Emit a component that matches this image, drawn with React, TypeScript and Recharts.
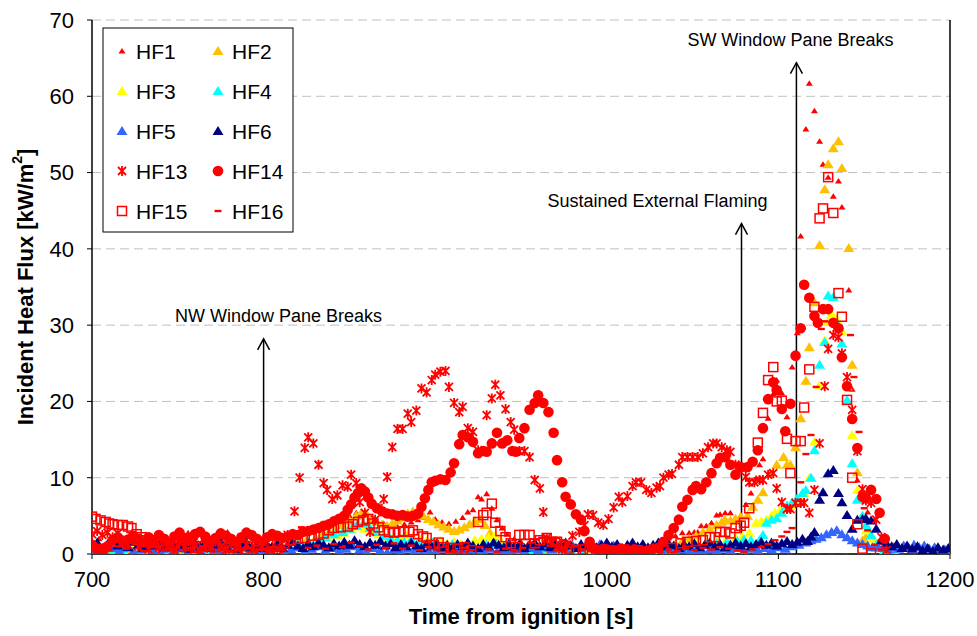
import React from "react";
import { ScatterChart, Scatter, XAxis, YAxis, CartesianGrid, ReferenceLine } from "recharts";

type Pt = [number, number];

// readings: [time from ignition (s), heat flux (kW/m2)]
const hf1: Pt[] = [
  [700,1.5],[704,2.0],[708,1.2],[712,1.8],[716,2.2],[720,1.6],[724,2.0],[728,1.4],[732,2.1],[736,1.7],[740,2.3],[744,1.9],[748,1.5],[752,2.2],[756,2.8],[760,2.1],[764,1.6],[768,2.0],[772,2.4],[776,2.6],[779,2.9],[782,2.2],[786,1.8],[790,2.3],[794,2.0],[798,1.7],
  [802,2.1],[806,2.5],[810,2.2],[814,2.6],[818,2.4],[822,2.8],[826,3.0],[830,3.3],[834,3.6],[838,3.9],[842,4.2],[846,4.6],[850,5.0],[854,5.4],[858,5.2],[862,4.8],[866,4.4],[870,4.0],[874,3.8],[878,3.6],[882,3.9],[886,4.2],[890,4.5],[894,4.8],[897,5.5],
  [900,4.6],[904,4.2],[908,4.0],[912,4.3],[916,4.8],[919,5.5],[922,5.8],[925,7.5],[927,7.2],[930,7.9],[933,6.0],[936,4.5],[939,3.4],[942,2.6],[946,2.0],[950,1.6],[954,1.3],[958,1.0],[962,0.8],[966,1.1],[970,0.7],[975,0.9],[980,0.6],[985,0.8],[990,0.5],[995,0.7],
  [1000,0.6],[1005,0.8],[1010,0.5],[1015,0.7],[1020,0.6],[1025,0.9],[1030,1.2],[1033,1.6],[1036,2.1],[1040,2.4],[1044,2.8],[1048,2.8],[1051,2.9],[1053,2.9],[1055,3.7],[1058,3.7],[1061,4.1],[1064,5.1],[1066,5.2],[1069,5.4],[1072,5.4],[1075,4.8],[1078,5.0],
  [1081,6.5],[1084,8.0],[1087,9.9],[1089,11.7],[1091,12.5],[1094,17.8],[1097,21.0],[1099,22.8],[1102,21.1],[1105,18.0],[1108,24.5],[1111,29.0],[1113,41.7],[1116,55.7],[1118,61.7],[1121,58.1],[1124,54.1],[1126,51.1],[1129,49.4],[1132,46.9],[1135,48.9],[1137,45.5],
  [1141,34.6],[1143,21.6],[1146,9.7],[1149,7.0],[1152,5.5],[1156,4.5],[1160,1.5],[1164,0.5],
];

const hf2: Pt[] = [
  [700,0.5],[705,0.9],[710,0.4],[715,1.1],[720,0.6],[725,0.3],[730,0.8],[735,1.2],[740,0.5],[744,1.6],[748,0.7],[752,0.4],[756,1.0],[760,0.6],[765,1.3],[770,0.5],[775,0.9],[780,0.4],[785,1.4],[788,1.8],[792,0.7],[796,1.0],
  [800,0.6],[805,0.9],[810,1.2],[815,0.8],[820,1.4],[825,1.8],[830,2.0],[834,2.4],[838,2.9],[842,3.3],[846,3.8],[850,4.4],[854,5.0],[857,5.4],[860,5.2],[863,4.6],[866,4.2],[869,3.9],[872,3.7],[875,4.0],[878,4.4],[881,4.8],[884,5.3],[887,5.6],[890,5.4],[893,5.0],[896,4.6],[899,4.3],
  [902,3.9],[905,3.6],[908,3.3],[911,3.0],[914,3.2],[917,3.5],[920,3.9],[923,4.3],[926,4.6],[929,3.8],[932,2.8],[935,2.2],[938,1.6],[942,1.1],[946,0.8],[950,0.5],[955,0.7],[960,0.4],[965,0.6],[970,0.3],[975,0.5],[980,0.2],[985,0.4],[990,0.3],[995,0.5],
  [1000,0.2],[1005,0.4],[1010,0.3],[1015,0.5],[1020,0.3],[1025,0.4],[1030,0.6],[1035,0.9],[1040,1.3],[1044,1.7],[1048,2.0],[1052,2.4],[1056,2.9],[1060,3.3],[1064,3.8],[1067,4.2],[1069,4.5],[1072,4.4],[1075,4.6],[1078,4.9],[1082,5.0],[1085,6.2],[1088,7.1],
  [1091,8.1],[1095,10.5],[1099,11.7],[1103,12.7],[1105,11.7],[1107,11.7],[1110,14.0],[1113,17.8],[1116,22.7],[1118,27.1],[1121,33.0],[1124,40.5],[1127,47.8],[1129,51.1],[1132,53.2],[1135,54.1],[1137,50.6],[1141,40.1],[1143,24.8],[1146,10.7],[1149,1.8],[1151,2.2],[1154,2.2],[1157,0.8],[1162,0.4],
];

const hf3: Pt[] = [
  [700,0.3],[706,0.6],[712,0.2],[718,0.5],[724,0.8],[730,0.4],[736,0.7],[742,0.3],[748,0.9],[754,0.5],[760,0.3],[766,0.7],[772,0.4],[778,0.8],[784,0.5],[790,0.9],[796,0.6],
  [802,0.8],[808,1.0],[814,1.1],[820,1.3],[826,1.5],[832,1.8],[838,2.1],[843,2.4],[847,2.8],[851,3.2],[855,3.6],[859,3.3],[863,2.9],[867,2.6],[871,2.3],[875,2.0],[879,2.2],[883,2.5],[887,2.3],[891,2.0],[895,1.8],[899,1.5],
  [903,1.7],[907,1.4],[911,1.6],[915,1.3],[919,1.5],[923,1.8],[927,2.0],[931,2.2],[935,2.5],[938,1.8],[942,1.2],[946,0.8],[950,0.5],[956,0.3],[962,0.4],[968,0.2],[974,0.3],[980,0.1],[986,0.3],[992,0.2],[998,0.1],
  [1004,0.3],[1010,0.2],[1016,0.4],[1022,0.3],[1028,0.5],[1034,0.6],[1040,0.9],[1046,1.2],[1052,1.4],[1058,1.6],[1064,1.9],[1070,2.1],[1075,2.2],[1079,2.3],[1083,2.8],[1087,4.1],[1090,4.3],[1093,4.5],[1096,5.0],[1098,5.4],
  [1101,5.7],[1104,6.0],[1107,6.3],[1110,6.7],[1113,7.3],[1115,8.0],[1118,10.0],[1121,14.7],[1124,22.1],[1127,28.0],[1129,30.5],[1131,31.5],[1134,30.8],[1137,29.2],[1140,22.0],[1143,15.6],[1146,8.4],[1149,5.0],[1151,3.1],[1154,2.0],[1157,1.4],[1162,0.5],
];

const hf4: Pt[] = [
  [700,0.2],[706,0.5],[712,0.3],[718,0.6],[724,0.2],[730,0.5],[736,0.8],[742,0.4],[748,0.6],[754,0.3],[760,0.7],[766,0.4],[772,0.6],[778,0.3],[784,0.5],[790,0.8],[796,0.4],
  [802,0.6],[808,0.9],[814,1.1],[820,1.3],[826,1.6],[831,1.9],[836,2.2],[841,2.6],[846,2.9],[850,3.3],[854,3.7],[858,4.0],[862,3.4],[866,2.9],[870,2.4],[874,2.0],[878,1.8],[882,1.6],[886,1.9],[890,1.5],[894,1.3],[898,1.6],
  [902,1.2],[906,1.0],[910,1.3],[915,0.9],[920,1.1],[925,0.8],[930,1.2],[935,1.4],[940,1.0],[945,0.7],[950,0.5],[956,0.3],[962,0.5],[968,0.2],[974,0.4],[980,0.2],[986,0.3],[992,0.1],[998,0.3],
  [1004,0.2],[1010,0.4],[1016,0.3],[1022,0.5],[1028,0.4],[1034,0.6],[1040,0.7],[1046,0.9],[1052,1.1],[1058,1.3],[1064,1.4],[1070,1.6],[1076,1.7],[1080,1.9],[1084,1.8],[1089,1.8],[1091,2.5],[1093,4.1],[1096,4.5],[1099,4.7],
  [1102,5.4],[1105,6.4],[1108,6.8],[1111,7.3],[1114,8.0],[1116,8.4],[1119,10.0],[1121,13.6],[1124,24.8],[1127,27.8],[1129,33.9],[1132,33.7],[1135,30.0],[1137,27.6],[1140,20.2],[1143,11.9],[1146,7.1],[1149,5.0],[1151,3.8],[1154,2.5],[1157,1.2],[1162,0.6],[1168,0.3],
];

const hf5: Pt[] = [
  [700,0.2],[704,0.5],[708,0.1],[712,0.8],[716,0.4],[720,0.9],[724,0.3],[728,0.6],[732,1.0],[736,0.5],[740,0.2],[744,0.7],[748,0.4],[752,0.9],[756,0.3],[760,0.6],[764,0.2],[768,0.8],[772,0.5],[776,0.2],[780,0.7],[784,0.4],[788,0.9],[792,0.3],[796,0.6],
  [800,0.2],[804,0.5],[808,0.8],[812,0.3],[816,0.6],[820,0.9],[824,0.4],[828,0.7],[832,1.0],[836,0.5],[840,0.8],[844,0.4],[848,0.7],[852,1.0],[856,0.6],[860,0.3],[864,0.8],[868,0.5],[872,0.2],[876,0.6],[880,0.3],[884,0.7],[888,0.4],[892,0.1],[896,0.5],
  [900,0.3],[904,0.7],[908,0.2],[912,0.5],[916,0.3],[920,0.6],[924,0.2],[928,0.4],[932,0.7],[936,0.3],[940,0.5],[944,0.2],[948,0.6],[952,0.4],[956,0.8],[960,0.5],[964,0.9],[968,0.6],[972,1.0],[976,0.7],[980,1.1],[984,0.8],[988,1.2],[992,0.9],[996,1.3],
  [1000,0.8],[1004,1.1],[1008,0.7],[1012,1.0],[1016,0.6],[1020,0.9],[1024,0.5],[1028,0.8],[1032,0.4],[1036,0.7],[1040,0.3],[1044,0.6],[1048,0.2],[1052,0.5],[1056,0.3],[1060,0.6],[1064,0.4],[1068,0.7],[1072,0.5],[1076,0.8],[1080,0.4],[1084,0.7],[1088,0.5],[1092,0.8],[1096,0.6],
  [1100,0.9],[1104,0.7],[1108,1.0],[1112,1.2],[1116,1.5],[1119,1.8],[1122,2.0],[1125,2.2],[1128,2.6],[1131,2.9],[1134,3.1],[1137,2.6],[1140,2.2],[1143,1.8],[1146,1.5],[1149,1.3],[1152,1.1],[1155,0.9],[1158,1.0],[1161,0.8],[1164,0.6],[1167,0.9],[1170,0.7],[1173,1.1],
  [1176,0.8],[1179,1.2],[1182,0.9],[1185,1.1],[1188,0.7],[1191,0.9],[1194,0.5],[1197,0.6],[1200,0.4],
];

const hf6: Pt[] = [
  [700,1.0],[703,1.5],[706,0.8],[709,1.3],[712,1.7],[715,1.1],[718,1.4],[721,0.9],[724,1.6],[727,1.2],[730,0.8],[733,1.5],[736,1.1],[739,1.7],[742,0.9],[745,1.3],[748,1.0],[751,1.6],[754,1.2],[757,0.7],[760,1.4],[763,1.0],[766,1.5],[769,0.8],[772,1.2],[775,1.6],[778,1.0],[781,1.3],[784,0.7],[787,1.1],[790,1.5],[793,0.9],[796,1.2],[799,0.8],
  [802,1.3],[805,1.0],[808,1.4],[811,0.8],[814,1.2],[817,1.6],[820,1.1],[823,0.8],[826,1.4],[829,1.0],[832,1.5],[835,1.2],[838,0.9],[841,1.4],[844,1.1],[847,1.6],[850,1.2],[853,1.8],[856,1.3],[859,1.0],[862,1.5],[865,1.2],[868,1.7],[871,1.1],[874,1.4],[877,0.9],[880,1.3],[883,1.0],[886,1.5],[889,1.1],[892,0.8],[895,1.3],[898,1.0],
  [901,1.4],[904,0.9],[907,1.2],[910,0.8],[913,1.3],[916,1.0],[919,1.5],[922,1.1],[925,0.8],[928,1.3],[931,1.0],[934,1.5],[937,1.2],[940,0.9],[943,1.4],[946,1.0],[949,1.3],[952,0.8],[955,1.2],[958,1.5],[961,1.0],[964,1.4],[967,0.9],[970,1.3],[973,1.0],[976,1.5],[979,1.1],[982,0.8],[985,1.3],[988,1.0],[991,1.4],[994,0.9],[997,1.2],
  [1000,1.5],[1003,1.0],[1006,1.3],[1009,0.8],[1012,1.2],[1015,1.5],[1018,1.0],[1021,1.3],[1024,0.9],[1027,1.2],[1030,1.5],[1033,1.0],[1036,1.4],[1039,1.1],[1042,0.8],[1045,1.3],[1048,1.0],[1051,1.4],[1054,0.9],[1057,1.2],[1060,1.5],[1063,1.0],[1066,1.3],[1069,0.9],[1072,1.2],[1075,1.5],[1078,1.1],[1081,1.4],[1084,1.0],[1087,1.3],[1090,1.6],[1093,1.2],[1096,1.5],[1099,1.1],
  [1102,1.4],[1105,1.7],[1108,1.3],[1111,1.6],[1114,2.0],[1117,1.7],[1119,2.3],[1121,2.9],[1124,7.1],[1126,8.1],[1129,10.6],[1132,11.0],[1135,8.0],[1137,6.8],[1140,5.1],[1143,3.3],[1146,4.5],[1149,4.6],[1151,4.7],[1154,4.4],[1157,3.3],[1160,1.8],[1163,1.4],[1166,1.0],[1169,1.3],[1172,0.8],[1175,1.1],[1178,0.7],
  [1181,1.0],[1184,0.5],[1187,0.8],[1190,0.4],[1193,0.9],[1196,0.6],[1199,0.8],
];

const hf13: Pt[] = [
  [700,2.6],[703,3.0],[706,2.5],[709,2.8],[712,2.2],[715,2.7],[718,1.8],[721,1.2],[724,2.0],[727,1.0],[730,1.6],[733,0.6],[736,1.4],[739,0.8],[742,1.9],[745,1.1],[748,0.5],[751,1.5],[754,0.9],[757,1.8],[760,1.2],[763,0.4],[766,1.3],[769,0.7],[772,1.6],[775,1.0],[778,0.5],[781,1.4],[784,0.8],[787,0.3],[790,1.2],[793,0.6],[796,0.2],[799,0.9],
  [802,0.3],[805,0.1],[808,0.6],[811,0.8],[814,2.5],[818,5.6],[821,10.0],[824,13.9],[826,15.3],[829,14.5],[832,11.7],[835,9.3],[837,8.4],[840,7.2],[843,7.7],[846,9.0],[849,8.8],[851,10.4],[854,9.3],[856,6.8],[859,5.4],[862,2.9],[865,4.5],[867,6.0],[870,7.2],[872,10.1],[875,14.0],[878,16.4],[881,16.4],[884,18.4],[886,17.3],[889,18.8],[892,21.7],[895,21.2],[898,22.8],
  [900,23.5],[903,23.9],[906,24.0],[908,21.9],[911,19.8],[914,18.6],[916,19.3],[919,16.5],[922,16.0],[925,13.6],[930,18.2],[933,20.4],[935,22.2],[938,20.8],[941,19.0],[944,17.3],[946,16.3],[949,13.5],[952,13.5],[955,12.7],[958,9.7],[961,8.6],[963,5.5],[965,2.1],[968,1.5],[971,0.9],[974,0.6],[977,1.2],[980,2.4],[984,2.9],[987,3.8],[989,5.2],[992,5.1],[995,4.1],[998,3.8],
  [1001,4.6],[1004,6.1],[1007,7.5],[1009,6.8],[1012,7.6],[1015,8.9],[1017,9.4],[1020,9.4],[1023,8.4],[1026,8.0],[1029,8.7],[1031,8.9],[1033,10.0],[1036,10.4],[1038,10.5],[1042,11.7],[1044,12.7],[1047,12.7],[1050,12.7],[1053,12.7],[1056,13.2],[1059,14.0],[1062,14.5],[1064,14.5],[1067,14.0],[1070,13.6],[1072,13.4],[1075,11.7],[1078,11.3],[1081,10.1],[1083,9.4],[1086,9.4],[1089,9.7],[1091,9.7],[1094,10.4],[1097,10.6],[1099,8.6],
  [1102,6.8],[1105,5.9],[1107,5.9],[1110,6.7],[1113,6.7],[1115,6.7],[1118,5.4],[1121,8.4],[1124,14.5],[1127,22.0],[1129,26.9],[1132,28.7],[1135,28.4],[1137,26.3],[1140,23.2],[1143,18.9],[1146,13.5],[1149,8.5],[1151,7.0],[1154,6.7],[1157,4.5],[1160,2.2],[1163,0.5],
];

const hf14: Pt[] = [
  [700,1.2],[703,0.6],[706,0.3],[709,1.0],[712,1.8],[715,2.2],[718,1.6],[721,1.9],[724,2.4],[727,2.0],[730,1.5],[733,2.2],[736,1.8],[739,2.5],[742,2.0],[745,1.4],[748,2.3],[751,2.8],[754,2.1],[757,1.8],[760,2.6],[763,2.9],[766,2.3],[769,1.7],[772,2.1],[775,2.7],[778,2.4],[781,2.0],[784,1.5],[787,2.2],[790,2.8],[793,2.5],[796,2.0],[799,1.6],
  [802,2.2],[805,2.6],[808,2.4],[811,2.1],[814,2.3],[817,2.6],[820,2.5],[823,2.9],[826,3.0],[829,3.2],[832,3.4],[835,3.7],[838,3.9],[841,4.3],[844,4.6],[847,5.0],[849,5.8],[851,6.5],[853,7.4],[855,8.0],[857,8.6],[859,8.2],[861,7.4],[863,6.6],[866,6.0],[869,5.6],[872,5.3],[875,5.2],[878,5.0],[881,5.1],[884,4.9],[887,5.0],[890,5.3],[892,6.2],[894,7.3],[896,8.4],[898,9.4],
  [900,9.6],[903,9.8],[906,9.7],[909,10.7],[911,11.9],[914,14.4],[916,15.6],[919,15.3],[922,14.7],[925,13.2],[928,13.5],[930,13.4],[933,14.5],[936,15.9],[939,14.5],[942,14.9],[945,13.5],[947,13.4],[949,15.2],[952,16.5],[955,18.9],[958,19.8],[960,20.8],[963,19.8],[966,18.6],[969,15.9],[971,12.3],[974,9.4],[976,7.5],[979,6.5],[982,5.2],[985,4.5],[987,3.0],[990,1.6],[992,0.8],[995,0.5],[998,0.7],
  [1000,0.6],[1004,0.4],[1008,0.7],[1012,0.5],[1016,0.6],[1020,0.4],[1024,0.5],[1027,0.7],[1030,0.8],[1033,1.6],[1036,2.5],[1039,3.4],[1042,4.5],[1044,6.2],[1047,7.1],[1050,8.4],[1052,8.9],[1055,8.5],[1058,9.4],[1061,10.6],[1064,11.9],[1066,12.6],[1069,12.7],[1072,11.7],[1075,10.4],[1078,11.4],[1082,11.4],[1085,12.1],[1088,13.6],[1091,16.5],[1094,20.3],[1097,22.5],[1099,21.5],
  [1102,19.0],[1104,16.1],[1107,19.7],[1110,26.0],[1113,29.6],[1115,35.3],[1118,33.6],[1121,31.2],[1123,30.3],[1126,32.1],[1129,32.1],[1132,30.3],[1135,29.6],[1137,25.8],[1140,22.0],[1143,17.7],[1146,13.9],[1149,7.5],[1151,7.3],[1154,8.4],[1157,7.2],[1159,5.4],[1162,2.0],
];

const hf15: Pt[] = [
  [700,4.9],[702,4.6],[705,4.4],[708,4.2],[710,4.0],[712,3.9],[715,3.8],[718,3.8],[721,3.6],[723,3.4],[726,2.6],[729,2.2],[732,1.8],[736,1.5],[740,1.2],[744,1.0],[748,1.3],[752,0.9],[756,1.1],[760,0.8],[764,1.0],[768,1.2],[772,0.9],[776,1.1],[780,0.8],[784,1.0],[788,1.2],[792,0.9],[796,1.1],
  [800,1.3],[804,1.2],[808,1.5],[812,1.4],[816,1.8],[820,2.0],[824,2.1],[828,2.4],[832,2.5],[835,2.7],[838,3.1],[841,3.4],[845,3.5],[849,3.6],[852,3.9],[855,4.2],[858,4.4],[861,4.6],[864,4.0],[867,3.5],[870,3.1],[873,2.9],[876,2.8],[879,2.9],[882,3.0],[885,2.9],[887,3.1],[890,2.6],[893,2.3],[895,2.1],[899,1.2],
  [902,1.5],[905,0.9],[909,0.8],[913,0.7],[917,0.9],[921,0.5],[925,4.2],[928,5.1],[930,5.4],[933,6.6],[935,4.1],[938,3.0],[941,2.2],[944,1.4],[947,0.9],[949,2.5],[952,2.5],[955,2.5],[958,1.4],[961,1.8],[965,2.1],[968,1.6],[971,1.6],[974,1.0],[978,0.7],[982,0.5],[986,0.6],[990,0.4],[994,0.5],[998,0.3],
  [1002,0.5],[1006,0.4],[1010,0.6],[1014,0.3],[1018,0.5],[1022,0.3],[1025,0.3],[1029,0.4],[1033,0.5],[1038,0.8],[1043,1.4],[1047,1.6],[1052,1.7],[1056,1.8],[1060,2.2],[1063,2.2],[1066,2.9],[1069,2.9],[1072,2.7],[1075,3.4],[1078,3.7],[1080,4.1],[1083,6.0],[1088,14.6],[1091,18.5],[1094,22.8],[1097,24.5],[1099,20.0],
  [1102,20.1],[1105,15.1],[1107,10.6],[1110,14.8],[1113,14.8],[1115,19.2],[1118,24.2],[1121,32.4],[1124,44.0],[1126,45.3],[1129,49.4],[1132,44.7],[1135,34.2],[1137,31.1],[1140,20.2],[1143,10.0],[1146,3.9],[1149,0.7],[1154,0.1],
];

const hf16: Pt[] = [
  [700,0.8],[705,1.2],[710,0.5],[715,1.0],[720,0.7],[725,1.3],[730,0.4],[735,0.9],[740,1.1],[745,0.6],[750,1.4],[755,0.8],[760,0.3],[765,1.0],[770,0.6],[775,1.2],[780,0.4],[785,0.9],[790,0.7],[795,1.1],
  [800,0.5],[805,0.9],[810,0.6],[815,1.2],[822,3.5],[826,0.8],[831,1.1],[836,0.7],[841,1.3],[846,0.9],[851,1.5],[856,1.0],[861,0.6],[866,1.2],[871,0.8],[876,1.4],[881,0.7],[886,1.1],[891,0.5],[896,0.9],
  [901,0.6],[906,1.0],[911,0.4],[916,0.8],[921,0.5],[926,0.9],[931,0.6],[936,0.3],[941,0.7],[946,0.5],[951,0.8],[956,1.5],[959,1.9],[962,2.1],[965,2.2],[968,2.0],[971,2.1],[974,1.8],[977,1.6],[981,1.0],[986,0.6],[991,0.4],[996,0.7],
  [1001,0.5],[1006,0.3],[1011,0.6],[1016,0.4],[1021,0.7],[1026,0.5],[1031,0.3],[1036,0.6],[1041,0.4],[1046,0.7],[1051,0.5],[1056,0.8],[1061,0.6],[1066,0.9],[1071,0.7],[1076,0.5],[1080,0.3],[1085,0.6],[1090,0.9],[1094,1.3],[1098,1.8],
  [1102,2.3],[1105,2.9],[1108,3.4],[1113,9.4],[1116,13.1],[1119,15.6],[1122,21.9],[1125,29.5],[1127,30.5],[1142,28.7],[1144,23.2],[1147,16.0],[1150,6.0],[1152,3.1],[1156,1.2],[1160,0.6],
];

const timeTicks = [700, 800, 900, 1000, 1100, 1200];
const fluxTicks = [0, 10, 20, 30, 40, 50, 60, 70];

const eventNames = ["NW Window Pane Breaks", "Sustained External Flaming", "SW Window Pane Breaks"];
const eventTimes = [800, 1078.5, 1110.5];
const eventTops = [28.2, 43.3, 64.4];
const eventLabelShift = [15, -84, -6];

type Kind = "smallTri" | "tri" | "star" | "circle" | "square" | "dash";

const series: { name: string; data: Pt[]; color: string; kind: Kind }[] = [
  { name: "HF1", data: hf1, color: "#FF0000", kind: "smallTri" },
  { name: "HF2", data: hf2, color: "#FFC000", kind: "tri" },
  { name: "HF3", data: hf3, color: "#FFFF00", kind: "tri" },
  { name: "HF4", data: hf4, color: "#00FFFF", kind: "tri" },
  { name: "HF5", data: hf5, color: "#3366FF", kind: "tri" },
  { name: "HF6", data: hf6, color: "#000080", kind: "tri" },
  { name: "HF13", data: hf13, color: "#FF0000", kind: "star" },
  { name: "HF14", data: hf14, color: "#FF0000", kind: "circle" },
  { name: "HF15", data: hf15, color: "#FF0000", kind: "square" },
  { name: "HF16", data: hf16, color: "#FF0000", kind: "dash" },
];

const FONT = "'Liberation Sans', Arial, sans-serif";

function Glyph({ kind, color, cx, cy }: { kind: Kind; color: string; cx: number; cy: number }) {
  if (cx == null || cy == null) return null;
  switch (kind) {
    case "smallTri":
      return <path d={`M${cx},${cy - 3} L${cx + 3.5},${cy + 2.5} L${cx - 3.5},${cy + 2.5} Z`} fill={color} />;
    case "tri":
      return <path d={`M${cx},${cy - 5} L${cx + 5.5},${cy + 4} L${cx - 5.5},${cy + 4} Z`} fill={color} />;
    case "star":
      return (
        <path
          d={`M${cx - 4},${cy - 4} L${cx + 4},${cy + 4} M${cx + 4},${cy - 4} L${cx - 4},${cy + 4} M${cx},${cy - 5} L${cx},${cy + 5}`}
          stroke={color}
          strokeWidth={1.8}
          fill="none"
        />
      );
    case "circle":
      return <circle cx={cx} cy={cy} r={5.3} fill={color} />;
    case "square":
      return <rect x={cx - 4.5} y={cy - 4.5} width={9} height={9} fill="none" stroke={color} strokeWidth={1.5} />;
    case "dash":
      return <rect x={cx - 3.5} y={cy - 1.2} width={7} height={2.4} fill={color} />;
  }
  return null;
}

function EventArrow(props: any) {
  const { x1, y1, x2, y2, index } = props;
  const x = x1;
  const top = Math.min(y1, y2);
  const bottom = Math.max(y1, y2);
  return (
    <g>
      <line x1={x} y1={bottom} x2={x} y2={top} stroke="#000" strokeWidth={1.5} />
      <path d={`M${x - 6},${top + 11} L${x},${top} L${x + 6},${top + 11}`} stroke="#000" strokeWidth={1.5} fill="none" />
      <text
        x={x + eventLabelShift[index]}
        y={top - 17}
        textAnchor="middle"
        fontFamily={FONT}
        fontSize={18}
        fill="#000"
      >
        {eventNames[index]}
      </text>
    </g>
  );
}

function LegendBox() {
  const rows = [
    [series[0], series[1]],
    [series[2], series[3]],
    [series[4], series[5]],
    [series[6], series[7]],
    [series[8], series[9]],
  ];
  return (
    <svg width={192} height={206} style={{ position: "absolute", left: 102, top: 27 }}>
      <rect x={1} y={1} width={190} height={204} fill="#fff" stroke="#000" strokeWidth={1} />
      {rows.map((pair, r) =>
        pair.map((s, c) => (
          <g key={s.name}>
            <Glyph kind={s.kind} color={s.color} cx={20 + c * 96} cy={24 + r * 40} />
            <text x={34 + c * 96} y={24 + r * 40 + 8} fontFamily={FONT} fontSize={21} fill="#000">
              {s.name}
            </text>
          </g>
        ))
      )}
    </svg>
  );
}

export default function App() {
  return (
    <div style={{ position: "absolute", left: 0, top: 0, width: 977, height: 636, background: "#fff" }}>
      <ScatterChart width={977} height={636} margin={{ top: 20, right: 27, bottom: 0, left: 0 }}>
        <CartesianGrid horizontal vertical={false} stroke="#c0c0c0" strokeDasharray="9 5" />
        <XAxis
          type="number"
          dataKey="t"
          domain={[700, 1200]}
          ticks={timeTicks}
          allowDataOverflow
          height={82}
          tickSize={5}
          tickMargin={12}
          tick={{ fontSize: 22, fill: "#000", fontFamily: FONT }}
          tickLine={{ stroke: "#000" }}
          axisLine={{ stroke: "#000", strokeWidth: 1.5 }}
          label={{
            content: ({ viewBox }: any) => (
              <text
                x={viewBox.x + viewBox.width / 2}
                y={viewBox.y + 70}
                textAnchor="middle"
                fontFamily={FONT}
                fontWeight="bold"
                fontSize={22}
                fill="#000"
              >
                Time from ignition [s]
              </text>
            ),
          }}
        />
        <YAxis
          type="number"
          dataKey="v"
          domain={[0, 70]}
          ticks={fluxTicks}
          allowDataOverflow
          width={92}
          tickSize={5}
          tickMargin={13}
          tick={{ fontSize: 22, fill: "#000", fontFamily: FONT }}
          tickLine={{ stroke: "#000" }}
          axisLine={{ stroke: "#000", strokeWidth: 1.5 }}
          label={{
            content: ({ viewBox }: any) => {
              const cx = 25;
              const cy = viewBox.y + viewBox.height / 2;
              return (
                <text
                  x={cx}
                  y={cy}
                  transform={`rotate(-90 ${cx} ${cy})`}
                  textAnchor="middle"
                  dominantBaseline="central"
                  fontFamily={FONT}
                  fontWeight="bold"
                  fontSize={22}
                  fill="#000"
                >
                  Incident Heat Flux [kW/m<tspan dy={-8} fontSize={14}>2</tspan>
                  <tspan dy={8}>]</tspan>
                </text>
              );
            },
          }}
        />
        <ReferenceLine x={1200} stroke="#000" strokeWidth={1.5} />
        {series.map((s) => (
          <Scatter
            key={s.name}
            name={s.name}
            data={s.data.map(([t, v]) => ({ t, v }))}
            isAnimationActive={false}
            shape={(p: any) => <Glyph kind={s.kind} color={s.color} cx={p.cx} cy={p.cy} />}
          />
        ))}
        {eventTimes.map((t, i) => (
          <ReferenceLine
            key={eventNames[i]}
            segment={[
              { x: t, y: 0 },
              { x: t, y: eventTops[i] },
            ]}
            stroke="#000"
            shape={(p: any) => <EventArrow {...p} index={i} />}
          />
        ))}
      </ScatterChart>
      <LegendBox />
    </div>
  );
}
